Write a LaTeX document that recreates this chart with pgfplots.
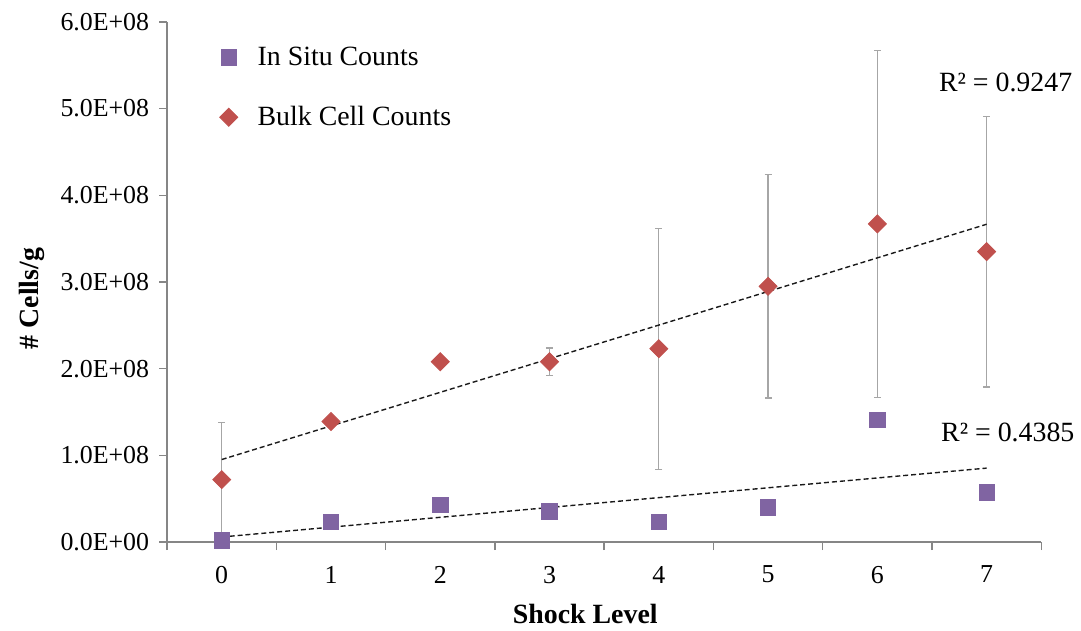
\documentclass[border=0pt]{standalone}
\usepackage{fontspec}
\setmainfont{Liberation Serif}
\usepackage{pgfplots}
\usepackage{pgfplotstable}
\pgfplotsset{compat=1.18}

\definecolor{insitu}{HTML}{8064A2}
\definecolor{bulk}{HTML}{C0504D}
\definecolor{axisgray}{HTML}{868686}
\definecolor{errgray}{HTML}{A6A6A6}

% In situ counts per shock level (cells/g)
\pgfplotstableread{
x y
0 2.0e6
1 2.3e7
2 4.3e7
3 3.55e7
4 2.3e7
5 4.0e7
6 1.41e8
7 5.7e7
}\insitutab

% Bulk cell counts per shock level (cells/g) with standard deviation
\pgfplotstableread{
x y err
0 7.2e7 6.6e7
1 1.39e8 0
2 2.08e8 0
3 2.08e8 1.6e7
4 2.23e8 1.39e8
5 2.95e8 1.29e8
6 3.67e8 2.0e8
7 3.35e8 1.56e8
}\bulktab

\begin{document}
\begin{tikzpicture}
\begin{axis}[
  scale only axis,
  width=439.5pt, height=261.5pt,
  xmin=-0.5, xmax=7.5, ymin=0, ymax=6e8,
  clip=false,
  axis x line=bottom, axis y line=left,
  axis line style={-, draw=axisgray, line width=0.75pt},
  tick align=outside,
  major tick length=4pt, minor tick length=4pt,
  tick style={axisgray, line width=0.75pt},
  xtick={0,1,2,3,4,5,6,7},
  xticklabels={0,1,2,3,4,5,6,7},
  minor xtick={-0.5,0.5,1.5,2.5,3.5,4.5,5.5,6.5,7.5},
  every major x tick/.append style={draw=none},
  ytick={0,1e8,2e8,3e8,4e8,5e8,6e8},
  yticklabels={0.0E+00,1.0E+08,2.0E+08,3.0E+08,4.0E+08,5.0E+08,6.0E+08},
  scaled y ticks=false,
  yticklabel style={font=\fontsize{13}{15}\selectfont, xshift=-1.5pt},
  xticklabel style={font=\fontsize{13}{15}\selectfont, yshift=-4.5pt},
  xlabel={Shock Level},
  ylabel={\# Cells/g},
  xlabel style={font=\fontsize{14}{17}\selectfont\bfseries, at={(axis description cs:0.4784,-0.1377)}, anchor=center},
  ylabel style={font=\fontsize{14}{17}\selectfont\bfseries, at={(axis description cs:-0.155,0.468)}, anchor=center},
  legend style={draw=none, fill=none, at={(axis description cs:0.053,0.968)}, anchor=north west,
    font=\fontsize{14}{17}\selectfont, row sep=15pt, column sep=8pt},
  legend cell align=left,
  reverse legend,
]
% invisible frame fixing the picture's extent
\path (axis description cs:-0.1911,-0.1663) rectangle (axis description cs:1.0387,1.0421);

\addplot[only marks, mark=square*, mark size=3.2pt,
  mark options={rotate=45, fill=bulk, draw=bulk},
  error bars/.cd, y dir=both, y explicit,
  error bar style={errgray, line width=0.65pt},
  error mark options={rotate=90, errgray, mark size=1.8pt, line width=0.65pt}]
  table[x=x, y=y, y error=err] {\bulktab};
\addlegendentry{Bulk Cell Counts}

\addplot[only marks, mark=square*, mark size=3.9pt,
  mark options={fill=insitu, draw=insitu}]
  table[x=x, y=y] {\insitutab};
\addlegendentry{In Situ Counts}

% linear trend lines
\addplot[forget plot, black!90, line width=0.7pt, dash pattern=on 2.5pt off 1.5pt]
  table[x=x, y={create col/linear regression={y=y}}] {\bulktab};
\addplot[forget plot, black!90, line width=0.7pt, dash pattern=on 2.5pt off 1.5pt]
  table[x=x, y={create col/linear regression={y=y}}] {\insitutab};

\node[anchor=west, font=\fontsize{14}{17}\selectfont] at (axis cs:6.5,5.3e8) {R² = 0.9247};
\node[anchor=west, font=\fontsize{14}{17}\selectfont] at (axis cs:6.52,1.27e8) {R² = 0.4385};
\end{axis}
\end{tikzpicture}
\end{document}
